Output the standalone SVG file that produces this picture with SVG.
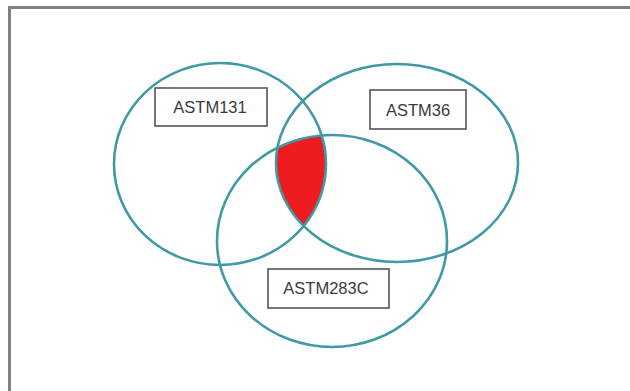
<svg xmlns="http://www.w3.org/2000/svg" width="630" height="391" viewBox="0 0 630 391">
<style>
.set{fill:none;stroke:#3f9aa6;stroke-width:2.6}
.box{fill:#fff;stroke:#555;stroke-width:1.6}
.lbl{font-family:"Liberation Sans",Arial,sans-serif;font-size:16.5px;fill:#3a3a3a;text-anchor:middle}
</style>
<defs>
<clipPath id="cL"><ellipse cx="220" cy="164" rx="106" ry="101"/></clipPath>
<clipPath id="cR"><ellipse cx="397" cy="163" rx="121" ry="99"/></clipPath>
</defs>
<rect x="0" y="0" width="630" height="391" fill="#fff"/>
<path d="M9.5,391 V7.5 H630" fill="none" stroke="#808080" stroke-width="3"/>
<g id="intersection" clip-path="url(#cL)">
<ellipse cx="332" cy="241" rx="115" ry="106" fill="#ee1b1f" clip-path="url(#cR)"/>
</g>
<g id="astm131">
<ellipse class="set" cx="220" cy="164" rx="106" ry="101"/>
<rect class="box" x="155" y="88" width="112" height="38"/>
<text class="lbl" x="210" y="113">ASTM131</text>
</g>
<g id="astm36">
<ellipse class="set" cx="397" cy="163" rx="121" ry="99"/>
<rect class="box" x="370" y="90" width="96" height="39"/>
<text class="lbl" x="418" y="116">ASTM36</text>
</g>
<g id="astm283c">
<ellipse class="set" cx="332" cy="241" rx="115" ry="106"/>
<rect class="box" x="268" y="269" width="121" height="39"/>
<text class="lbl" x="326" y="294">ASTM283C</text>
</g>
<g id="connectors"/>
</svg>
